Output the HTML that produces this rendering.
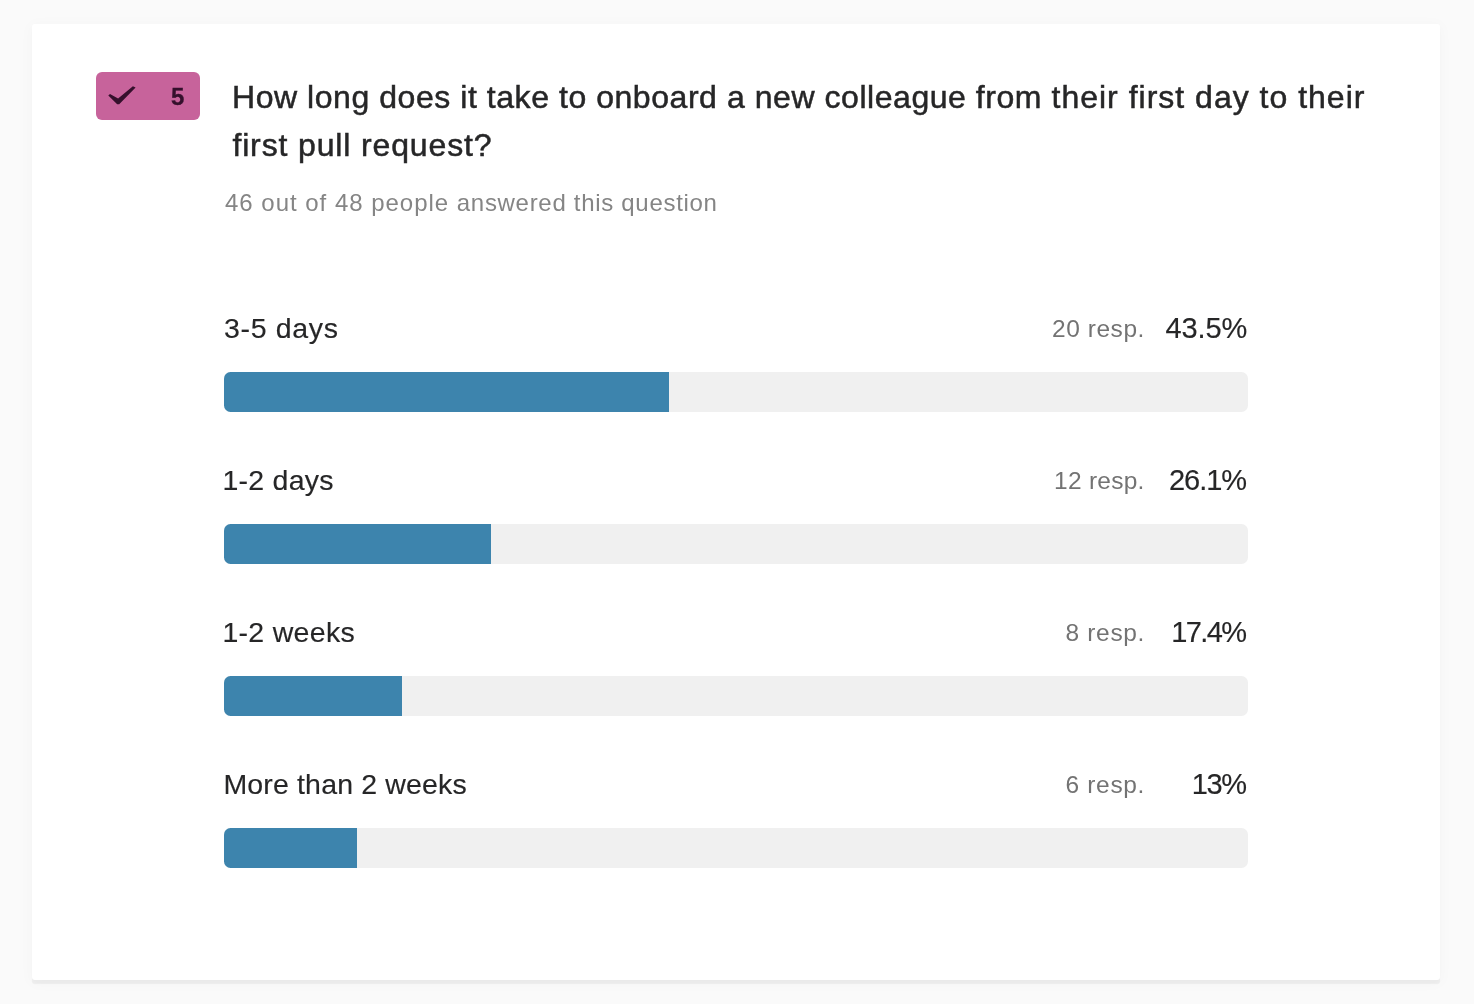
<!DOCTYPE html>
<html lang="en">
<head>
<meta charset="utf-8">
<title>Survey result</title>
<style>
  html, body { margin: 0; padding: 0; }
  body {
    width: 1474px; height: 1004px; overflow: hidden;
    background: #fafafa;
    font-family: "Liberation Sans", sans-serif;
    position: relative;
    color: #262627;
  }
  .card {
    position: absolute; left: 32px; top: 24px; width: 1408px; height: 956px;
    background: #fff; border-radius: 3px;
    box-shadow: 0 3.5px 1px rgba(0,0,0,0.048), 0 2px 14px 2px rgba(0,0,0,0.022);
  }
  .t { position: absolute; white-space: nowrap; margin: 0; font-weight: normal; line-height: 1; }
  .badge {
    position: absolute; left: 96px; top: 72px; width: 104px; height: 48px;
    background: #c7639b; border-radius: 6px;
  }
  .badge svg { position: absolute; left: 0; top: 0; }
  .badge .num {
    position: absolute; left: 75px; top: 12.6px; font-size: 24px; line-height: 1;
    font-weight: bold; color: #35102c; -webkit-text-stroke: 0.3px #35102c;
  }
  .title { left: 232px; font-size: 32px; color: #262627; letter-spacing: 0.46px; -webkit-text-stroke: 0.5px #262627; }
  .title .a { letter-spacing: 0.55px; }
  .title .b { letter-spacing: 1.0px; }
  .title .c { letter-spacing: 0.86px; margin-left: 0.4px; }
  .sub { left: 225px; top: 190.7px; font-size: 24px; color: #858585; letter-spacing: 0.81px; }
  .sub .a { letter-spacing: 0.98px; }
  .sub .b { letter-spacing: 0.70px; }
  .lbl { font-size: 28.5px; color: #262627; -webkit-text-stroke: 0.15px #262627; }
  .resp { font-size: 24.5px; color: #737373; }
  .pct { font-size: 29px; color: #262627; -webkit-text-stroke: 0.15px #262627; }
  .track {
    position: absolute; left: 224px; width: 1024px; height: 40px;
    background: #f0f0f0; border-radius: 6.5px; overflow: hidden;
  }
  .fill { position: absolute; left: 0; top: 0; height: 40px; background: #3d84ad; }
</style>
</head>
<body>
<div class="card"></div>

<div class="badge">
  <svg width="104" height="48" viewBox="0 0 104 48"><polygon points="14.0,22.0 22.1,26.4 36.9,14.3 39.6,15.6 23.2,32.3 21.2,32.3 12.3,23.4" fill="#35102c"/></svg>
  <span class="num">5</span>
</div>

<h1 class="t title" style="top:73.45px;line-height:48px"><span class="a">How long does it take to onboard a new colleague from </span><span class="b">their first day to their</span><br><span class="c">first pull request?</span></h1>
<p class="t sub"><span class="a">46 out of 48 people </span><span class="b">answered this question</span></p>

<span class="t lbl" style="top:314.3px;left:224.0px;letter-spacing:0.66px">3-5 days</span>
<span class="t resp" style="top:316.5px;right:329.05px;letter-spacing:0.55px">20 resp.</span>
<span class="t pct" style="top:313.65px;right:226.90px;letter-spacing:-0.1px">43.5%</span>
<div class="track" style="top:372px"><div class="fill" style="width:445px"></div></div>

<span class="t lbl" style="top:466.3px;left:222.4px;letter-spacing:0.26px">1-2 days</span>
<span class="t resp" style="top:468.5px;right:329.34px;letter-spacing:0.26px">12 resp.</span>
<span class="t pct" style="top:465.65px;right:228.07px;letter-spacing:-1.07px">26.1%</span>
<div class="track" style="top:524px"><div class="fill" style="width:267px"></div></div>

<span class="t lbl" style="top:618.3px;left:222.4px;letter-spacing:0.3px">1-2 weeks</span>
<span class="t resp" style="top:620.5px;right:328.94px;letter-spacing:0.66px">8 resp.</span>
<span class="t pct" style="top:617.65px;right:228.60px;letter-spacing:-1.6px">17.4%</span>
<div class="track" style="top:676px"><div class="fill" style="width:178px"></div></div>

<span class="t lbl" style="top:770.3px;left:223.4px;letter-spacing:0.16px">More than 2 weeks</span>
<span class="t resp" style="top:772.5px;right:328.94px;letter-spacing:0.66px">6 resp.</span>
<span class="t pct" style="top:769.65px;right:228.35px;letter-spacing:-1.35px">13%</span>
<div class="track" style="top:828px"><div class="fill" style="width:133px"></div></div>
</body>
</html>
